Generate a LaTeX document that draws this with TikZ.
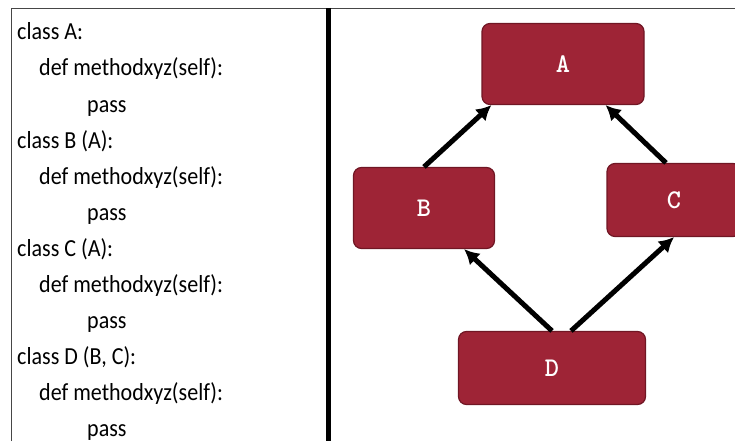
\documentclass[tikz,border=0pt]{standalone}
\usepackage{fontspec}
\setmainfont{Carlito}[FakeStretch=0.9]
\usetikzlibrary{arrows.meta}
\definecolor{boxfill}{RGB}{158,36,54}
\definecolor{boxedge}{RGB}{112,22,36}
\definecolor{framegray}{RGB}{70,70,70}
\tikzset{
    codeline/.style={
        anchor=base west, inner sep=0pt,
        font=\fontsize{24.5}{28}\selectfont
    }
}

\begin{document}
\begin{tikzpicture}[x=1pt,y=-1pt, line cap=butt, line join=round]

\useasboundingbox (0,0) rectangle (735,441);

\tikzset{
  cls/.style={draw=boxedge, fill=boxfill, line width=1.2pt, rounded corners=8pt,
    inner sep=0pt, text=white, font=\ttfamily\bfseries\fontsize{27}{30}\selectfont},
  inherit/.style={draw=black, line width=5pt, -{Latex[length=15pt,width=16pt]}},
}

% frame
\draw[framegray, line width=0.9pt] (11,441) -- (11,8) -- (735,8);
\draw[black, line width=5pt] (328,8) -- (328,441);

% source listing
\node[codeline] (l1)  at (17,40)  {class A:};
\node[codeline] (l2)  at (39,76)  {def methodxyz(self):};
\node[codeline] (l3)  at (87,112) {pass};
\node[codeline] (l4)  at (17,148) {class B (A):};
\node[codeline] (l5)  at (39,184) {def methodxyz(self):};
\node[codeline] (l6)  at (87,220) {pass};
\node[codeline] (l7)  at (17,256) {class C (A):};
\node[codeline] (l8)  at (39,292) {def methodxyz(self):};
\node[codeline] (l9)  at (87,328) {pass};
\node[codeline] (l10) at (17,364) {class D (B, C):};
\node[codeline] (l11) at (39,400) {def methodxyz(self):};
\node[codeline] (l12) at (87,436) {pass};

% classes
\node[cls, minimum width=162pt, minimum height=81pt] (A) at (563,64)  {A};
\node[cls, minimum width=141pt, minimum height=81pt] (B) at (424,208) {B};
\node[cls, minimum width=134pt, minimum height=73pt] (C) at (674,200) {C};
\node[cls, minimum width=187pt, minimum height=73pt] (D) at (552,368) {D};

% inheritance
\draw[inherit] (B.north) -- ([xshift=10pt]A.south west);
\draw[inherit] ([xshift=-8pt]C.north) -- ([xshift=-39pt]A.south east);
\draw[inherit] (D.north) -- ([xshift=-31pt]B.south east);
\draw[inherit] ([xshift=19pt]D.north) -- (C.south);

\end{tikzpicture}
\end{document}
